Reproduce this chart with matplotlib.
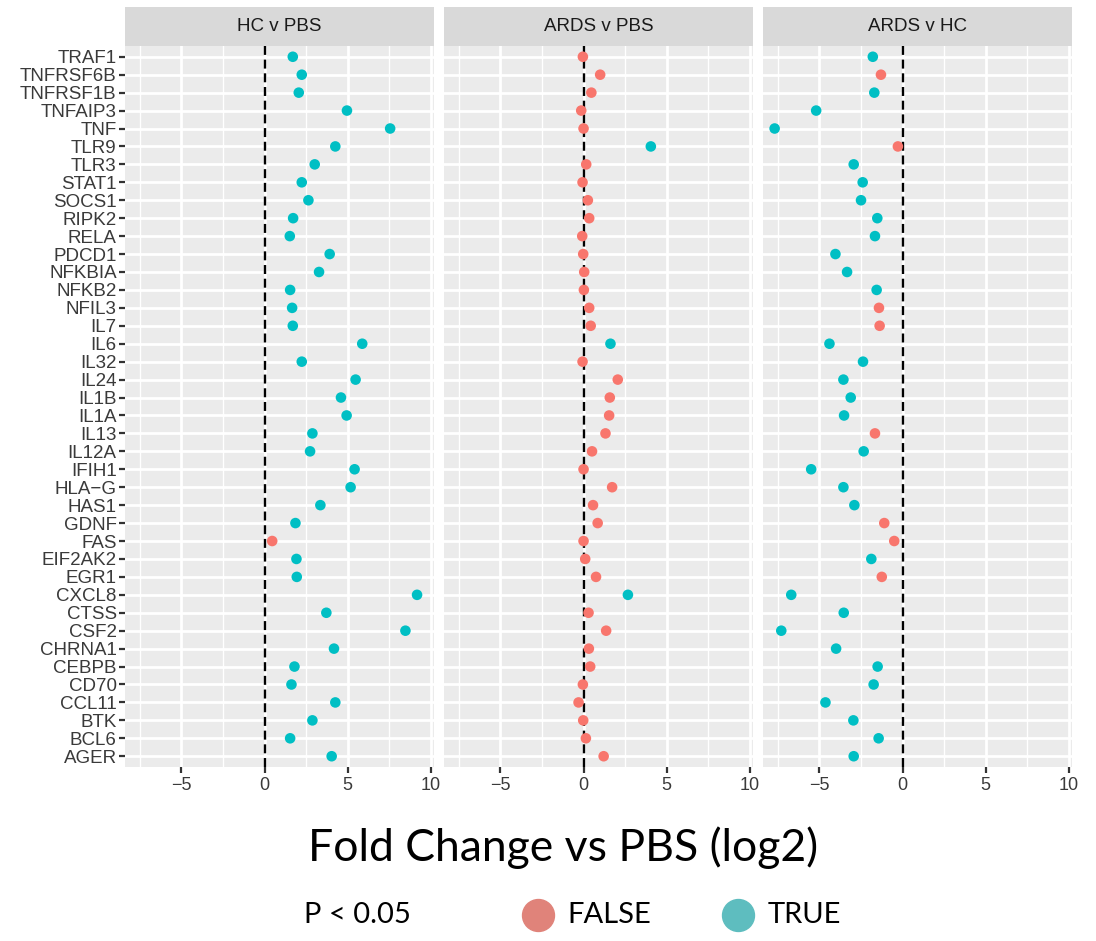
import matplotlib
matplotlib.use("Agg")
import matplotlib.pyplot as plt
from matplotlib.lines import Line2D

genes = ["TRAF1", "TNFRSF6B", "TNFRSF1B", "TNFAIP3", "TNF", "TLR9", "TLR3", "STAT1",
         "SOCS1", "RIPK2", "RELA", "PDCD1", "NFKBIA", "NFKB2", "NFIL3", "IL7", "IL6",
         "IL32", "IL24", "IL1B", "IL1A", "IL13", "IL12A", "IFIH1", "HLA\u2212G", "HAS1",
         "GDNF", "FAS", "EIF2AK2", "EGR1", "CXCL8", "CTSS", "CSF2", "CHRNA1", "CEBPB",
         "CD70", "CCL11", "BTK", "BCL6", "AGER"]

panels = ["HC v PBS", "ARDS v PBS", "ARDS v HC"]

hc_v_pbs = [1.70, 2.24, 2.06, 4.96, 7.56, 4.26, 3.02, 2.24, 2.64, 1.72, 1.52, 3.92,
            3.28, 1.54, 1.66, 1.70, 5.88, 2.24, 5.48, 4.60, 4.94, 2.88, 2.74, 5.42,
            5.18, 3.36, 1.86, 0.46, 1.92, 1.94, 9.18, 3.72, 8.48, 4.18, 1.80, 1.62,
            4.26, 2.88, 1.54, 4.04]
ards_v_pbs = [-0.04, 1.00, 0.47, -0.14, 0.00, 4.05, 0.16, -0.06, 0.26, 0.34, -0.08,
              -0.02, 0.04, 0.02, 0.34, 0.43, 1.62, -0.06, 2.06, 1.58, 1.54, 1.32, 0.51,
              0.00, 1.72, 0.57, 0.85, 0.00, 0.10, 0.75, 2.67, 0.30, 1.36, 0.32, 0.40,
              -0.04, -0.30, -0.02, 0.14, 1.21]
ards_v_hc = [-1.79, -1.30, -1.70, -5.20, -7.70, -0.28, -2.94, -2.40, -2.50, -1.52,
             -1.66, -4.04, -3.34, -1.56, -1.42, -1.38, -4.40, -2.38, -3.56, -3.12,
             -3.52, -1.66, -2.34, -5.50, -3.56, -2.90, -1.10, -0.50, -1.88, -1.25,
             -6.70, -3.54, -7.30, -4.00, -1.50, -1.74, -4.64, -2.96, -1.44, -2.94]

sig_hc_v_pbs = [g != "FAS" for g in genes]
sig_ards_v_pbs = [g in ("TLR9", "IL6", "CXCL8") for g in genes]
sig_ards_v_hc = [g not in ("TNFRSF6B", "TLR9", "NFIL3", "IL7", "IL13", "GDNF", "FAS", "EGR1")
                 for g in genes]

values = [hc_v_pbs, ards_v_pbs, ards_v_hc]
sigs = [sig_hc_v_pbs, sig_ards_v_pbs, sig_ards_v_hc]

x_ticks = [-5, 0, 5, 10]
x_minor = [-7.5, -2.5, 2.5, 7.5]

COL_FALSE = "#F8766D"
COL_TRUE = "#00BFC4"

W, H = 1096, 941
fig = plt.figure(figsize=(W / 100, H / 100), dpi=100)

lefts = [125, 444, 763]
pw = 309
ptop, pbot = 46, 767
stop = 7

n = len(genes)
ypos = list(range(n))

for i, (name, vals, sg) in enumerate(zip(panels, values, sigs)):
    ax = fig.add_axes([lefts[i] / W, (H - pbot) / H, pw / W, (pbot - ptop) / H])
    ax.set_facecolor("#EBEBEB")
    for s in ax.spines.values():
        s.set_visible(False)
    ax.set_xlim(-8.4, 10.2)
    ax.set_ylim(n - 1 + 0.6, -0.6)
    for xm in x_minor:
        ax.axvline(xm, color="white", lw=1.0, zorder=0)
    for xt in x_ticks:
        ax.axvline(xt, color="white", lw=2.0, zorder=0)
    for y in ypos:
        ax.axhline(y, color="white", lw=2.0, zorder=0)
    ax.axvline(0, color="black", lw=1.7, dashes=(3.8, 2.0), zorder=1)
    cols = [COL_TRUE if s else COL_FALSE for s in sg]
    ax.scatter(vals, ypos, s=58, c=cols, edgecolors="none", zorder=3)
    ax.set_xticks(x_ticks)
    ax.set_xticklabels(["\u22125", "0", "5", "10"], fontsize=13, color="#3A3A3A",
                       family="Liberation Sans")
    ax.tick_params(axis="x", length=4, width=1.6, color="#333333", pad=3)
    ax.set_yticks(ypos)
    if i == 0:
        ax.set_yticklabels(genes, fontsize=13.5, color="#3A3A3A", family="Liberation Sans")
        ax.tick_params(axis="y", length=4, width=1.6, color="#333333", pad=2)
    else:
        ax.set_yticklabels([])
        ax.tick_params(axis="y", length=0)
    # strip
    sax = fig.add_axes([lefts[i] / W, (H - ptop) / H, pw / W, (ptop - stop) / H])
    sax.set_facecolor("#D9D9D9")
    sax.set_xticks([])
    sax.set_yticks([])
    for s in sax.spines.values():
        s.set_visible(False)
    sax.text(0.5, 0.5, name, ha="center", va="center", fontsize=13.5, color="#1A1A1A",
             family="Liberation Sans", transform=sax.transAxes)

fig.text(563 / W, 1 - 848 / H, "Fold Change vs PBS (log2)", ha="center", va="center",
         fontsize=32, family="Lato", color="black")

# legend
ly = 1 - 915 / H
fig.text(304 / W, ly, "P < 0.05", ha="left", va="center", fontsize=21, family="Lato")
fig.add_artist(Line2D([538 / W], [ly], marker="o", markersize=23, color="#E0837A",
                      linestyle="none", transform=fig.transFigure))
fig.text(567 / W, ly, "FALSE", ha="left", va="center", fontsize=21, family="Lato")
fig.add_artist(Line2D([738 / W], [ly], marker="o", markersize=23, color="#5EBDBF",
                      linestyle="none", transform=fig.transFigure))
fig.text(768 / W, ly, "TRUE", ha="left", va="center", fontsize=21, family="Lato")

fig.savefig("out.png", dpi=100, facecolor="white")
